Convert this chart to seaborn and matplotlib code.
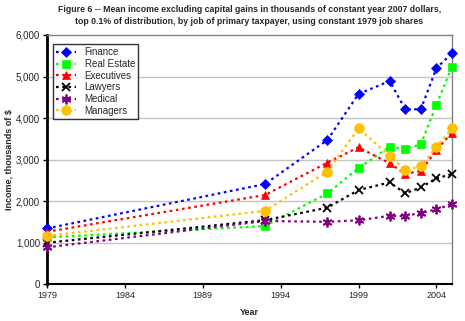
import matplotlib
matplotlib.use("Agg")
import matplotlib.pyplot as plt
import seaborn as sns
import pandas as pd

years = [1979, 1993, 1997, 1999, 2001, 2002, 2003, 2004, 2005]
finance = [1340, 2410, 3470, 4580, 4890, 4210, 4210, 5200, 5560]
real_estate = [1125, 1400, 2185, 2790, 3310, 3255, 3365, 4315, 5240]
executives = [1260, 2145, 2925, 3295, 2910, 2655, 2725, 3230, 3650]
lawyers = [995, 1540, 1840, 2265, 2450, 2185, 2330, 2546, 2650]
medical = [885, 1520, 1500, 1535, 1645, 1638, 1718, 1800, 1928]
managers = [1160, 1765, 2710, 3750, 3090, 2750, 2840, 3300, 3755]

series_names = ["Finance", "Real Estate", "Executives", "Lawyers", "Medical", "Managers"]
series_values = [finance, real_estate, executives, lawyers, medical, managers]
colors = ["#0000FF", "#00FF00", "#FF0000", "#000000", "#800080", "#FFC000"]
markers = ["D", "s", "^", "x", (6, 2, 0), "o"]
msizes = [5, 6, 6, 6, 7, 7]

x_ticks = [1979, 1984, 1989, 1994, 1999, 2004]
y_ticks = [0, 1000, 2000, 3000, 4000, 5000, 6000]
y_ticklabels = ["0", "1,000", "2,000", "3,000", "4,000", "5,000", "6,000"]

title = ("Figure 6 -- Mean income excluding capital gains in thousands of constant year 2007 dollars,\n"
         "top 0.1% of distribution, by job of primary taxpayer, using constant 1979 job shares")

sns.set_style("white")
plt.rcParams["font.family"] = ["Liberation Sans", "DejaVu Sans"]

rows = []
for name, vals in zip(series_names, series_values):
    for yr, v in zip(years, vals):
        rows.append({"Year": yr, "Income": v, "Job": name})
df = pd.DataFrame(rows)

fig = plt.figure(figsize=(4.65, 3.21), dpi=100)
ax_rect = [0.101, 0.115, 0.871, 0.776]
ax = fig.add_axes(ax_rect)

for name, col, mk, ms in zip(series_names, colors, markers, msizes):
    sub = df[df["Job"] == name]
    sns.lineplot(data=sub, x="Year", y="Income", ax=ax, color=col, marker=mk,
                 markersize=ms, markeredgecolor=col, markerfacecolor=col,
                 markeredgewidth=1.3 if name in ("Lawyers", "Medical") else 0.5,
                 linewidth=1.6, linestyle=(0, (1.2, 1.6)), label=name,
                 dash_capstyle="butt", clip_on=False, zorder=3)

ax.set_xlim(1979, 2005)
ax.set_ylim(0, 6000)
ax.set_xticks(x_ticks)
ax.set_xticklabels([str(t) for t in x_ticks], fontsize=6.5)
ax.set_yticks(y_ticks)
ax.set_yticklabels(y_ticklabels, fontsize=7)
ax.tick_params(axis="both", direction="out", length=3, width=1, color="black", pad=2)
ax.tick_params(axis="x", bottom=True)
ax.tick_params(axis="y", left=True)

for v in y_ticks[1:-1]:
    ax.axhline(v, color="#C4C4C4", linewidth=1.0, zorder=1)

ax.spines["left"].set_color("black")
ax.spines["left"].set_linewidth(2.0)
ax.spines["bottom"].set_color("black")
ax.spines["bottom"].set_linewidth(1.5)
for s in ("top", "right"):
    ax.spines[s].set_color("#808080")
    ax.spines[s].set_linewidth(1.0)

ax.set_xlabel("Year", fontsize=6.5, fontweight="bold", labelpad=6)
ax.set_ylabel("Income, thousands of $", fontsize=6.5, fontweight="bold")
ax.yaxis.set_label_coords(-0.083, 0.5)

fig.text(ax_rect[0] + ax_rect[2] / 2, 0.985, title, fontsize=6.3, fontweight="bold",
         ha="center", va="top", linespacing=1.45)

leg = ax.legend(loc="upper left", bbox_to_anchor=(0.015, 0.964), borderaxespad=0,
                fontsize=7, frameon=True, fancybox=False, edgecolor="black",
                handlelength=2.0, handletextpad=0.9, labelspacing=0.17,
                borderpad=0.35)
leg.get_frame().set_linewidth(1.0)

fig.savefig("out.png", dpi=100)
